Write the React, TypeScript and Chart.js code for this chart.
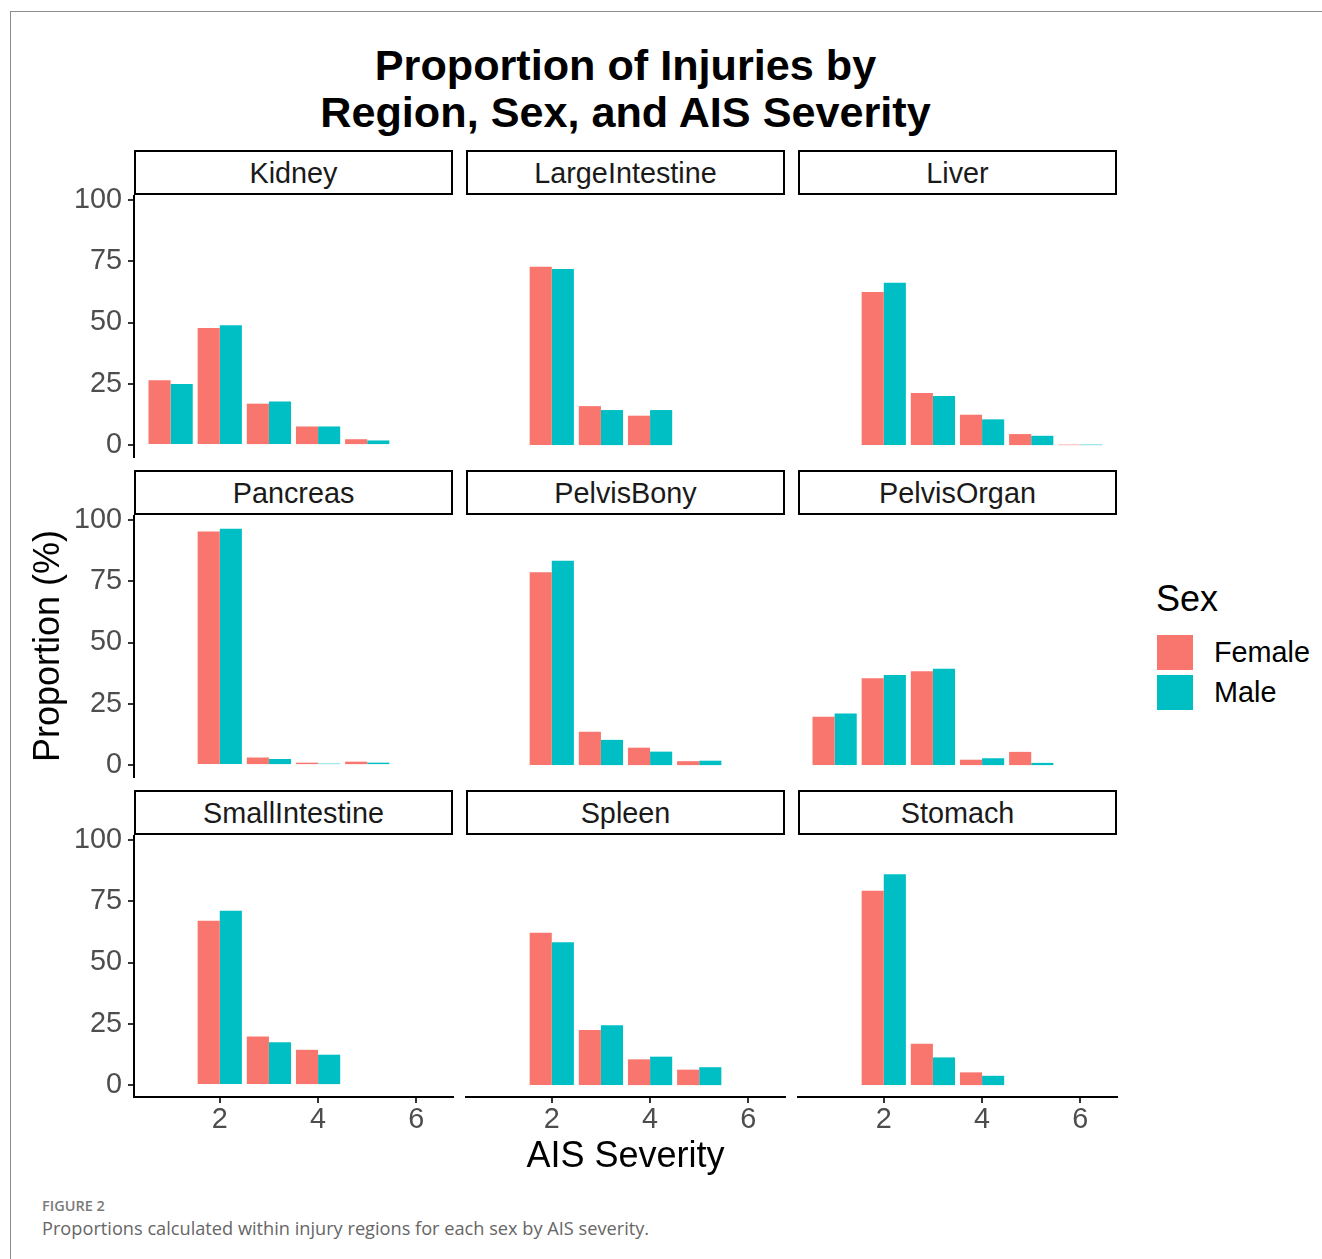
import React, { useEffect, useRef } from "react";
import { Chart, registerables } from "chart.js";

Chart.register(...registerables);

// ---------- data ----------
const severities = [1, 2, 3, 4, 5, 6];
const xTickValues = [2, 4, 6];
const yTickValues = [0, 25, 50, 75, 100];
const sexes = ["Female", "Male"];
const sexColors = ["#F8766D", "#00BFC4"];

const regions = [
  "Kidney",
  "LargeIntestine",
  "Liver",
  "Pancreas",
  "PelvisBony",
  "PelvisOrgan",
  "SmallIntestine",
  "Spleen",
  "Stomach",
];

const kidneyFemale = [26.5, 47.8, 16.9, 7.6, 2.4, null];
const kidneyMale = [24.9, 48.9, 17.8, 7.6, 1.9, null];
const largeIntestineFemale = [null, 72.7, 15.9, 12.0, null, null];
const largeIntestineMale = [null, 71.8, 14.3, 14.3, null, null];
const liverFemale = [null, 62.4, 21.3, 12.4, 4.5, 0.2];
const liverMale = [null, 66.2, 20.0, 10.5, 3.8, 0.2];
const pancreasFemale = [null, 95.3, 3.1, 1.0, 1.4, null];
const pancreasMale = [null, 96.4, 2.5, 0.6, 1.0, null];
const pelvisBonyFemale = [null, 78.7, 13.6, 7.1, 1.6, null];
const pelvisBonyMale = [null, 83.3, 10.3, 5.5, 1.8, null];
const pelvisOrganFemale = [19.7, 35.4, 38.3, 2.2, 5.4, null];
const pelvisOrganMale = [21.0, 36.8, 39.3, 2.8, 0.9, null];
const smallIntestineFemale = [null, 67.0, 19.8, 14.4, null, null];
const smallIntestineMale = [null, 71.1, 17.5, 12.4, null, null];
const spleenFemale = [null, 62.1, 22.5, 10.5, 6.3, null];
const spleenMale = [null, 58.3, 24.4, 11.6, 7.3, null];
const stomachFemale = [null, 79.3, 16.9, 5.2, null, null];
const stomachMale = [null, 86.0, 11.3, 3.8, null, null];

const femaleSeries = [
  kidneyFemale,
  largeIntestineFemale,
  liverFemale,
  pancreasFemale,
  pelvisBonyFemale,
  pelvisOrganFemale,
  smallIntestineFemale,
  spleenFemale,
  stomachFemale,
];
const maleSeries = [
  kidneyMale,
  largeIntestineMale,
  liverMale,
  pancreasMale,
  pelvisBonyMale,
  pelvisOrganMale,
  smallIntestineMale,
  spleenMale,
  stomachMale,
];

// ---------- layout ----------
const FONT = "'Liberation Sans', Arial, Helvetica, sans-serif";
const CAPTION_FONT = "'Open Sans', Lato, sans-serif";
const PLOT_LEFT = 134;
const PLOT_TOP = 196;
const PLOT_W = 319;
const PLOT_H = 261;
const COL_STEP = 332;
const ROW_STEP = 320;
const STRIP_H = 46;
const Y_AXIS_W = 70;
const X_AXIS_H = 45;
const PAD = 32;
const X_MIN = 0.255;
const X_MAX = 6.745;
const Y_MIN = -4.85;
const Y_MAX = 101.6;

function Panel({ idx }: { idx: number }) {
  const ref = useRef<HTMLCanvasElement>(null);
  const row = Math.floor(idx / 3);
  const col = idx % 3;
  const isLeft = col === 0;
  const isBottom = row === 2;
  const plotLeft = PLOT_LEFT + col * COL_STEP;
  const plotTop = PLOT_TOP + row * ROW_STEP;
  const left = plotLeft - (isLeft ? Y_AXIS_W : 0) - PAD;
  const top = plotTop - PAD;
  const width = PLOT_W + (isLeft ? Y_AXIS_W : 0) + 2 * PAD;
  const height = PLOT_H + (isBottom ? X_AXIS_H : 0) + 2 * PAD;

  useEffect(() => {
    const female = femaleSeries[idx];
    const male = maleSeries[idx];
    const chart = new Chart(ref.current as HTMLCanvasElement, {
      type: "bar",
      data: {
        datasets: [
          {
            label: sexes[0],
            data: severities.map((s, i) => ({ x: s, y: female[i] })) as any,
            backgroundColor: sexColors[0],
          },
          {
            label: sexes[1],
            data: severities.map((s, i) => ({ x: s, y: male[i] })) as any,
            backgroundColor: sexColors[1],
          },
        ],
      },
      options: {
        animation: false,
        responsive: false,
        maintainAspectRatio: false,
        layout: { padding: PAD },
        plugins: { legend: { display: false }, tooltip: { enabled: false } },
        datasets: {
          bar: { categoryPercentage: 0.9, barPercentage: 1, borderWidth: 0 },
        },
        scales: {
          x: {
            type: "linear",
            min: X_MIN,
            max: X_MAX,
            offset: false,
            display: isBottom,
            afterBuildTicks: (s: any) => {
              s.ticks = xTickValues.map((v) => ({ value: v }));
            },
            afterFit: (s: any) => {
              s.height = isBottom ? X_AXIS_H : 0;
            },
            grid: {
              display: true,
              offset: false,
              drawOnChartArea: false,
              drawTicks: true,
              tickLength: 6,
              color: "#333333",
              lineWidth: 2,
            },
            border: { display: true, color: "#000000", width: 2 },
            ticks: {
              color: "#4D4D4D",
              font: { family: FONT, size: 28.8 },
              padding: 0,
              maxRotation: 0,
              autoSkip: false,
            },
          },
          y: {
            type: "linear",
            min: Y_MIN,
            max: Y_MAX,
            display: isLeft,
            afterBuildTicks: (s: any) => {
              s.ticks = yTickValues.map((v) => ({ value: v }));
            },
            afterFit: (s: any) => {
              s.width = isLeft ? Y_AXIS_W : 0;
            },
            grid: {
              display: true,
              offset: false,
              drawOnChartArea: false,
              drawTicks: true,
              tickLength: 6,
              color: "#333333",
              lineWidth: 2,
            },
            border: { display: true, color: "#000000", width: 2 },
            ticks: {
              color: "#4D4D4D",
              font: { family: FONT, size: 28.8 },
              padding: 6,
              autoSkip: false,
            },
          },
        },
      } as any,
    });
    return () => chart.destroy();
  }, [idx]);

  return (
    <>
      <div
        style={{
          position: "absolute",
          left: plotLeft,
          top: plotTop - STRIP_H,
          width: PLOT_W,
          height: STRIP_H - 1,
          boxSizing: "border-box",
          border: "2.2px solid #000",
          background: "#fff",
          display: "flex",
          alignItems: "center",
          justifyContent: "center",
          fontFamily: FONT,
          fontSize: 28.8,
          color: "#1A1A1A",
          paddingTop: 2,
        }}
      >
        {regions[idx]}
      </div>
      <canvas
        ref={ref}
        width={width}
        height={height}
        style={{ position: "absolute", left, top, width, height }}
      />
    </>
  );
}

export default function App() {
  return (
    <div
      style={{
        position: "absolute",
        left: 0,
        top: 0,
        width: 1322,
        height: 1259,
        background: "#ffffff",
        overflow: "hidden",
        fontFamily: FONT,
      }}
    >
      <div
        style={{
          position: "absolute",
          left: 10,
          top: 11,
          width: 1400,
          height: 1400,
          borderLeft: "1px solid #8c8c8c",
          borderTop: "1px solid #8c8c8c",
        }}
      />
      <div
        style={{
          position: "absolute",
          left: PLOT_LEFT,
          top: 42,
          width: 2 * COL_STEP + PLOT_W,
          textAlign: "center",
          fontWeight: "bold",
          fontSize: 43.2,
          lineHeight: "47px",
          color: "#000",
        }}
      >
        Proportion of Injuries by
        <br />
        Region, Sex, and AIS Severity
      </div>
      {regions.map((_, i) => (
        <Panel key={i} idx={i} />
      ))}
      <div
        style={{
          position: "absolute",
          left: PLOT_LEFT,
          top: 1133,
          width: 2 * COL_STEP + PLOT_W,
          textAlign: "center",
          fontSize: 36,
          lineHeight: "44px",
          color: "#000",
        }}
      >
        AIS Severity
      </div>
      <div
        style={{
          position: "absolute",
          left: 47 - 200,
          top: 646 - 22,
          width: 400,
          height: 44,
          lineHeight: "44px",
          textAlign: "center",
          fontSize: 36,
          color: "#000",
          transform: "rotate(-90deg)",
        }}
      >
        Proportion (%)
      </div>
      {/* legend */}
      <div
        style={{
          position: "absolute",
          left: 1156,
          top: 577,
          fontSize: 36,
          lineHeight: "44px",
          color: "#000",
        }}
      >
        Sex
      </div>
      {sexes.map((s, i) => (
        <React.Fragment key={s}>
          <div
            style={{
              position: "absolute",
              left: 1157,
              top: 635 + i * 39.5,
              width: 36,
              height: 35,
              background: sexColors[i],
            }}
          />
          <div
            style={{
              position: "absolute",
              left: 1214,
              top: 635 + i * 39.5,
              height: 35,
              lineHeight: "35px",
              fontSize: 28.8,
              color: "#000",
            }}
          >
            {s}
          </div>
        </React.Fragment>
      ))}
      {/* caption */}
      <div
        style={{
          position: "absolute",
          left: 42,
          top: 1196,
          fontFamily: CAPTION_FONT,
          fontSize: 14.5,
          fontWeight: 600,
          color: "#7a7a7a",
        }}
      >
        FIGURE 2
      </div>
      <div
        style={{
          position: "absolute",
          left: 42,
          top: 1216,
          fontFamily: CAPTION_FONT,
          fontSize: 18.2,
          color: "#666666",
        }}
      >
        Proportions calculated within injury regions for each sex by AIS severity.
      </div>
    </div>
  );
}
